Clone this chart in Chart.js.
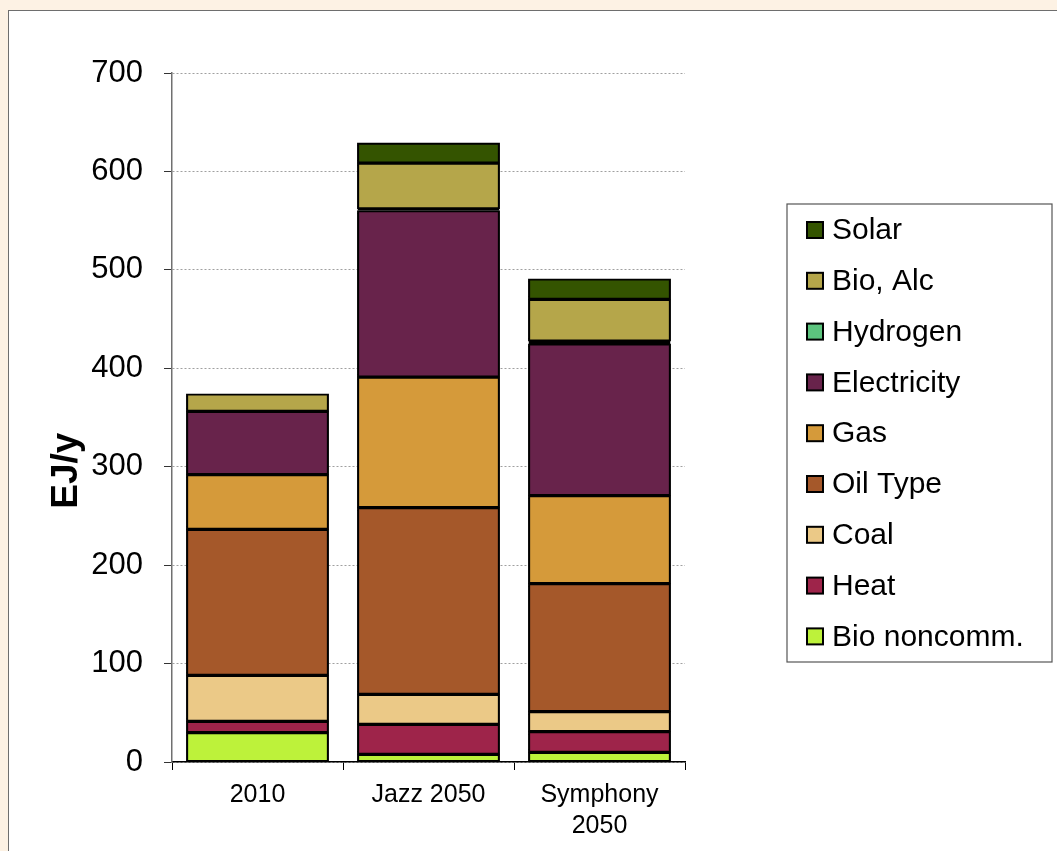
<!DOCTYPE html>
<html>
<head>
<meta charset="utf-8">
<script src="https://cdn.jsdelivr.net/npm/chart.js@4.4.1/dist/chart.umd.min.js"></script>
<style>
  html, body { margin: 0; padding: 0; overflow: hidden; background: #fdf2e4; }
  #panel {
    position: absolute; left: 8px; top: 10px; width: 1200px; height: 1000px;
    background: #fff; border: 1.5px solid #6e6e6e; box-sizing: border-box;
  }
  #chart { position: absolute; left: 0; top: 0; }
</style>
</head>
<body>
<div id="panel"></div>
<canvas id="chart" width="1057" height="851"></canvas>
<script>
// ── DATA ─────────────────────────────────────────────────────────────────────
const categories = ['2010', 'Jazz 2050', ['Symphony', '2050']]

const bioNoncomm  = [29.8, 7.8, 9.8]
const heat        = [11.5, 30.5, 21.0]
const coal        = [46.8, 30.5, 20.3]
const oilType     = [148.3, 189.6, 130.1]
const gas         = [55.5, 132.7, 89.4]
const electricity = [64.4, 169.0, 154.1]
const hydrogen    = [0, 2, 3]
const bioAlc      = [17.6, 46.4, 42.4]
const solar       = [0, 20.3, 20.6]

const yTicks = [0, 100, 200, 300, 400, 500, 600, 700]

const FONT = '"Liberation Sans", Arial, sans-serif'

// stack order bottom -> top
const series = [
  { label: 'Bio noncomm.', data: bioNoncomm,  color: '#bdf23a' },
  { label: 'Heat',         data: heat,        color: '#9e244a' },
  { label: 'Coal',         data: coal,        color: '#ebc987' },
  { label: 'Oil Type',     data: oilType,     color: '#a5582a' },
  { label: 'Gas',          data: gas,         color: '#d59a3a' },
  { label: 'Electricity',  data: electricity, color: '#68234b' },
  { label: 'Hydrogen',     data: hydrogen,    color: '#5cc47e', thin: true },
  { label: 'Bio, Alc',     data: bioAlc,      color: '#b5a64a' },
  { label: 'Solar',        data: solar,       color: '#345400' },
]

// ── PLUGINS ──────────────────────────────────────────────────────────────────

// título do eixo Y, um pouco abaixo do centro como no original
const yTitlePlugin = {
  id: 'yTitle',
  afterDraw(chart, args, opts) {
    const y = chart.scales.y
    const ctx = chart.ctx
    ctx.save()
    ctx.translate(chart.chartArea.left - opts.offsetX, y.getPixelForValue(opts.atValue))
    ctx.rotate(-Math.PI / 2)
    ctx.font = 'bold 37px ' + FONT
    ctx.fillStyle = '#000'
    ctx.textAlign = 'center'
    ctx.textBaseline = 'middle'
    ctx.fillText(opts.text, 0, 0)
    ctx.restore()
  }
}

// legenda com moldura, na ordem inversa da pilha
const boxLegendPlugin = {
  id: 'boxLegend',
  afterDraw(chart, args, o) {
    const ctx = chart.ctx
    ctx.save()
    ctx.fillStyle = '#fff'
    ctx.fillRect(o.left, o.top, o.right - o.left, o.bottom - o.top)
    ctx.strokeStyle = '#555'
    ctx.lineWidth = 1.2
    ctx.strokeRect(o.left, o.top, o.right - o.left, o.bottom - o.top)
    const items = [...chart.data.datasets].reverse()
    ctx.font = '30px ' + FONT
    ctx.textBaseline = 'middle'
    items.forEach((ds, i) => {
      const cy = o.top + o.firstOffset + i * o.spacing
      ctx.fillStyle = ds.backgroundColor
      ctx.fillRect(o.boxX, cy - o.box / 2, o.box, o.box)
      ctx.strokeStyle = '#000'
      ctx.lineWidth = 2
      ctx.strokeRect(o.boxX, cy - o.box / 2, o.box, o.box)
      ctx.fillStyle = '#000'
      ctx.fillText(ds.label, o.textX, cy + 1)
    })
    ctx.restore()
  }
}

// ── CHART ────────────────────────────────────────────────────────────────────

new Chart(document.getElementById('chart'), {
  type: 'bar',
  data: {
    labels: categories,
    datasets: series.map(s => ({
      label: s.label,
      data: s.data,
      backgroundColor: s.color,
      borderColor: '#000',
      borderWidth: 2.1,
      borderSkipped: false,
      // faixas finas (hidrogênio) ficam só com a borda preta, como no original
      inflateAmount: s.thin ? 0 : 0.5,
      categoryPercentage: 1,
      barPercentage: 0.83,
    }))
  },
  options: {
    responsive: false,
    animation: false,
    layout: { padding: { left: 0, top: 73, right: 372, bottom: 0 } },
    plugins: {
      legend: { display: false },
      tooltip: { enabled: false },
      yTitle: { text: 'EJ/y', offsetX: 105, atValue: 296 },
      boxLegend: {
        left: 787, top: 204, right: 1052, bottom: 662,
        firstOffset: 26, spacing: 50.8,
        boxX: 807, box: 16, textX: 832,
      },
    },
    scales: {
      x: {
        stacked: true,
        afterFit: s => { s.height = 89 },
        grid: {
          offset: true,
          drawOnChartArea: false,
          drawTicks: true,
          tickLength: 8,
          tickColor: '#000',
          tickWidth: 1,
        },
        border: { color: '#000', width: 1.5 },
        ticks: {
          color: '#000',
          padding: 10,
          maxRotation: 0,
          font: { family: FONT, size: 25, lineHeight: 1.24 },
        },
      },
      y: {
        stacked: true,
        min: yTicks[0],
        max: yTicks[yTicks.length - 1],
        afterFit: s => { s.width = 172 },
        afterBuildTicks: s => { s.ticks = yTicks.map(v => ({ value: v })) },
        grid: {
          color: '#a0a0a0',
          lineWidth: 1,
          tickLength: 8,
          tickColor: '#333',
          tickWidth: 1,
          tickBorderDash: [],
        },
        border: { color: '#707070', width: 1.5, dash: [2, 2] },
        ticks: {
          color: '#000',
          padding: 21,
          font: { family: FONT, size: 31 },
        },
      },
    },
  },
  plugins: [yTitlePlugin, boxLegendPlugin],
})
</script>
</body>
</html>
